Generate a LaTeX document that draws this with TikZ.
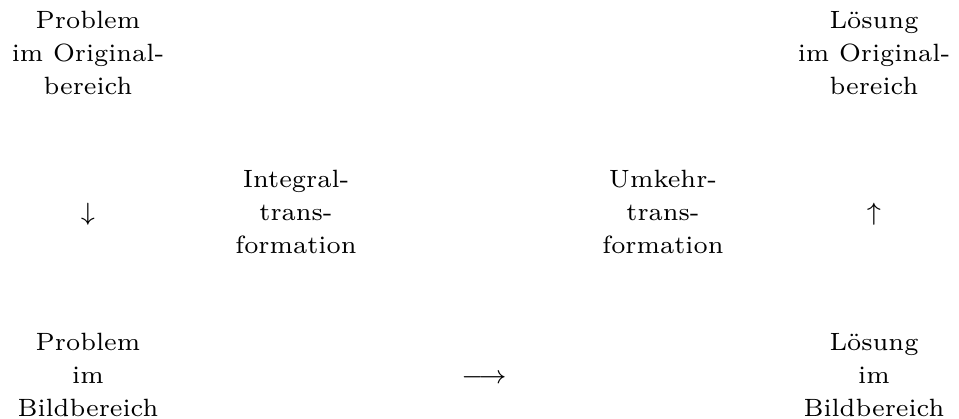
\documentclass[tikz,border=0pt]{standalone}
\begin{document}
\begin{tikzpicture}[x=0.28pt,y=-0.28pt,
  lbl/.style={anchor=base, inner sep=0pt, outer sep=0pt, font=\fontsize{7}{8.4}\selectfont}]
\useasboundingbox (0,0) rectangle (959,419);
% column 1
\node[lbl] (po1) at (88,29) {Problem};
\node[lbl] (po2) at (88,62) {im Original-};
\node[lbl] (po3) at (88,95) {bereich};
\node[lbl] (dn) at (88,221) {$\downarrow$};
\node[lbl] (pb1) at (88,351) {Problem};
\node[lbl] (pb2) at (88,384) {im};
\node[lbl] (pb3) at (88,417) {Bildbereich};
% column 2
\node[lbl] (it1) at (296,188) {Integral-};
\node[lbl] (it2) at (296,221) {trans-};
\node[lbl] (it3) at (296,254) {formation};
% column 3
\node[lbl] (rt) at (484,384) {$\longrightarrow$};
% column 4
\node[lbl] (ut1) at (663,188) {Umkehr-};
\node[lbl] (ut2) at (663,221) {trans-};
\node[lbl] (ut3) at (663,254) {formation};
% column 5
\node[lbl] (lo1) at (874,29) {Lösung};
\node[lbl] (lo2) at (874,62) {im Original-};
\node[lbl] (lo3) at (874,95) {bereich};
\node[lbl] (up) at (874,221) {$\uparrow$};
\node[lbl] (lb1) at (874,351) {Lösung};
\node[lbl] (lb2) at (874,384) {im};
\node[lbl] (lb3) at (874,417) {Bildbereich};
\end{tikzpicture}
\end{document}
